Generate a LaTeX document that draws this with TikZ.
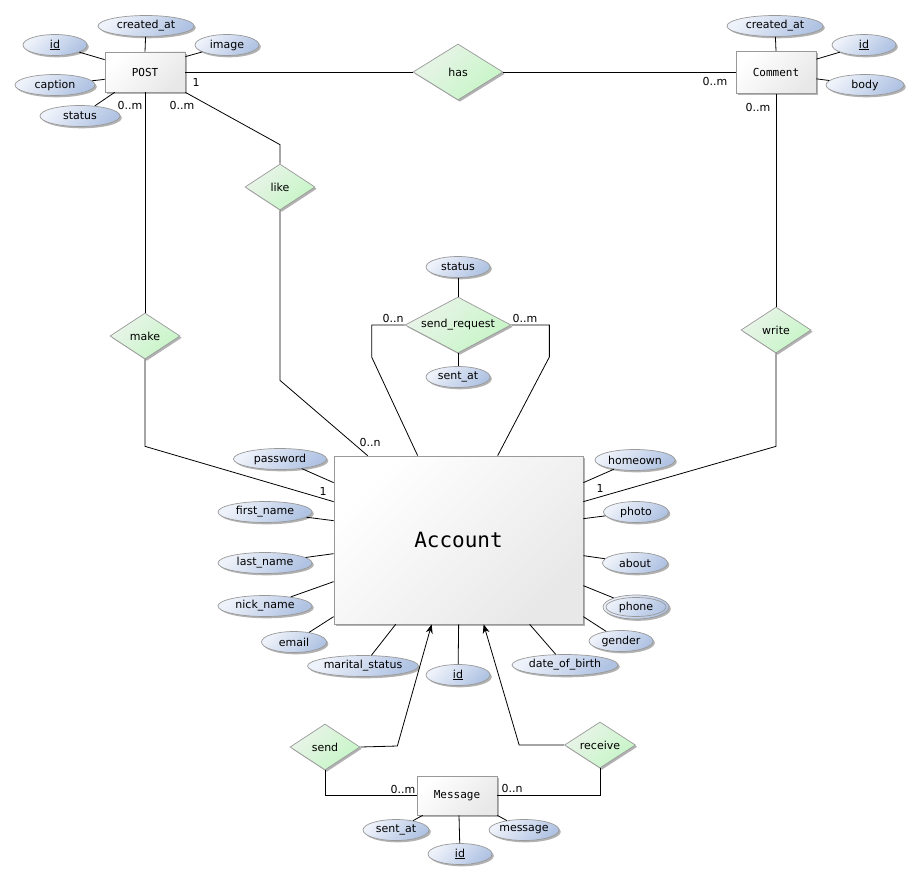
\documentclass[tikz,border=0pt]{standalone}
\usepackage{fontspec}
\setmainfont{DejaVu Sans}
\newfontfamily\monof{DejaVu Sans Mono}
\usetikzlibrary{shapes.geometric,shadows,arrows.meta,calc}
\definecolor{attrL}{HTML}{EEF2FA}
\definecolor{attrR}{HTML}{B0C3E3}
\definecolor{relL}{HTML}{EAF4EA}
\definecolor{relR}{HTML}{C6F5C6}
\definecolor{bord}{HTML}{999999}
\definecolor{entR}{HTML}{E8E8E8}
\tikzset{
  lbl/.style={font=\fontsize{11}{13}\selectfont},
  shad/.style={drop shadow={shadow xshift=1.8pt, shadow yshift=-1.8pt, opacity=0.3, fill=black}},
  diag/.style 2 args={shading=axis, top color=#1, bottom color=#2, shading angle=45},
  attr/.style={ellipse, draw=bord, line width=0.7pt, diag={attrL}{attrR}, shad, inner sep=0pt, minimum height=21pt, lbl},
  entity/.style={rectangle, draw=bord, line width=0.7pt, diag={white}{entR}, shad, inner sep=0pt, minimum width=80pt, minimum height=40pt, font=\monof\fontsize{11}{13}\selectfont},
  rel/.style={diamond, draw=bord, line width=0.7pt, diag={relL}{relR}, shad, inner sep=0pt, aspect=1.55, minimum width=70pt, minimum height=46pt, lbl},
  card/.style={inner sep=0pt, lbl},
  conn/.style={draw=black, line width=0.8pt},
  arr/.style={conn, -{Stealth[length=9pt,width=7pt]}},
}
\begin{document}
\begin{tikzpicture}[x=1pt,y=-1pt]
\useasboundingbox (0,0) rectangle (920,880);

% entities
\node[entity] (post) at (145,72) {POST};
\node[entity, minimum height=42pt] (com) at (776,72.5) {Comment};
\node[entity, minimum width=249pt, minimum height=168pt, font=\monof\fontsize{21}{24}\selectfont] (acc) at (458.5,540) {Account};
\node[entity, minimum height=39pt] (msg) at (457,795.5) {Message};

% relationships
\node[rel, minimum width=90pt, minimum height=56pt] (has) at (458,72) {has};
\node[rel] (like) at (280,187) {like};
\node[rel] (make) at (145,336) {make};
\node[rel] (write) at (776,330) {write};
\node[rel, minimum width=106pt, minimum height=56pt, aspect=1.9] (sr) at (458,325) {send\_request};
\node[rel] (send) at (325,747) {send};
\node[rel, minimum width=71pt] (recv) at (600,745) {receive};

% POST attributes
\node[attr, minimum width=96pt] (pcr) at (146,26) {created\_at};
\node[attr, minimum width=64pt] (pid) at (55,45) {\underline{id}};
\node[attr, minimum width=64pt] (pimg) at (227,45) {image};
\node[attr, minimum width=80pt] (pcap) at (55,85) {caption};
\node[attr, minimum width=80pt] (psta) at (80,116) {status};
% Comment attributes
\node[attr, minimum width=96pt] (ccr) at (775,26) {created\_at};
\node[attr, minimum width=64pt] (cid) at (864,45) {\underline{id}};
\node[attr, minimum width=78pt] (cbody) at (865,85) {body};
% send_request attributes
\node[attr, minimum width=64pt] (srst) at (458,267) {status};
\node[attr, minimum width=64pt] (srsa) at (458,377) {sent\_at};
% Account attributes
\node[attr, minimum width=93pt] (apw) at (280,459) {password};
\node[attr, minimum width=94pt] (afn) at (265,512) {first\_name};
\node[attr, minimum width=94pt] (aln) at (265,563) {last\_name};
\node[attr, minimum width=94pt] (ann) at (265,606) {nick\_name};
\node[attr, minimum width=65pt] (aem) at (294,642) {email};
\node[attr, minimum width=104pt] (ams) at (363,666) {marital\_status};
\node[attr, minimum width=64pt] (aid) at (458,675) {\underline{id}};
\node[attr, minimum width=106pt] (adob) at (565,665) {date\_of\_birth};
\node[attr, minimum width=80pt] (aho) at (635,460) {homeown};
\node[attr, minimum width=65pt] (aph) at (636,512) {photo};
\node[attr, minimum width=65pt] (aab) at (635,563) {about};
\node[attr, minimum width=66pt, minimum height=24pt] (aphn) at (636,607) {phone};
\draw[bord, line width=0.7pt] (aphn.center) ellipse (30pt and 9.5pt);
\node[attr, minimum width=64pt] (age) at (621,641) {gender};
% Message attributes
\node[attr, minimum width=66pt] (msa) at (396,830) {sent\_at};
\node[attr, minimum width=64pt] (mid) at (460,854) {\underline{id}};
\node[attr, minimum width=66pt] (mme) at (524,830) {message};

% attribute links
\draw[conn] (pcr) -- (post.north);
\draw[conn] (pid) -- ([yshift=-8pt]post.north west);
\draw[conn] (pimg) -- ([yshift=-5pt]post.north east);
\draw[conn] (pcap) -- ([yshift=13pt]post.south west);
\draw[conn] (psta) -- ([xshift=10pt]post.south west);
\draw[conn] (ccr) -- (com.north);
\draw[conn] (cid) -- ([yshift=-8pt]com.north east);
\draw[conn] (cbody) -- ([yshift=15pt]com.south east);
\draw[conn] (srst) -- (sr.north);
\draw[conn] (srsa) -- (sr.south);
\draw[conn] (apw) -- ([yshift=-27pt]acc.north west);
\draw[conn] (afn) -- ([yshift=-65pt]acc.north west);
\draw[conn] (aln) -- ([yshift=-98pt]acc.north west);
\draw[conn] (ann) -- ([yshift=-126pt]acc.north west);
\draw[conn] (aem) -- ([yshift=-161pt]acc.north west);
\draw[conn] (ams) -- ([xshift=62pt]acc.south west);
\draw[conn] (aid) -- ([xshift=125pt]acc.south west);
\draw[conn] (adob) -- ([xshift=196pt]acc.south west);
\draw[conn] (aho) -- ([yshift=-27pt]acc.north east);
\draw[conn] (aph) -- ([yshift=-63pt]acc.north east);
\draw[conn] (aab) -- ([yshift=-100pt]acc.north east);
\draw[conn] (aphn) -- ([yshift=-130pt]acc.north east);
\draw[conn] (age) -- ([yshift=-161pt]acc.north east);
\draw[conn] (msa) -- ([xshift=6pt]msg.south west);
\draw[conn] (mid) -- ([xshift=2pt]msg.south);
\draw[conn] (mme) -- (msg.south east);

% relationship links
\draw[conn] (post.east) -- (has.west);
\draw[conn] (has.east) -- (com.west |- has.east);
\draw[conn] (com.south) -- (write.north);
\draw[conn] (write.south) -- ++(0,93) -- ([yshift=-46pt]acc.north east);
\draw[conn] (post.south) -- (make.north);
\draw[conn] (make.south) -- ++(0,87) -- ([yshift=-46pt]acc.north west);
\draw[conn] (post.south east) -- ([yshift=19pt]like.north) -- (like.north);
\draw[conn] (like.south) -- ++(0,170) -- ([xshift=34pt]acc.north west);
\draw[conn] (sr.west) -- ++(-33,0) -- ++(0,32) -- ([xshift=84pt]acc.north west);
\draw[conn] (sr.east) -- ++(38,0) -- ++(0,32) -- ([xshift=164pt]acc.north west);
\draw[arr] (send.east) -- ++(37,-1) -- ([xshift=98pt]acc.south west);
\draw[arr] (recv.west) -- ++(-45,0) -- ([xshift=150pt]acc.south west);
\draw[conn] (send.south) |- (msg.west);
\draw[conn] (recv.south) |- (msg.east);

% cardinalities
\node[card] (k1) at (196,82) {1};
\node[card] (k2) at (715,81) {0..m};
\node[card] (k3) at (758,107) {0..m};
\node[card] (k4) at (130,105) {0..m};
\node[card] (k5) at (182,105) {0..m};
\node[card] (k6) at (370,442) {0..n};
\node[card] (k7) at (393,318) {0..n};
\node[card] (k8) at (525,318) {0..m};
\node[card] (k9) at (323,491) {1};
\node[card] (k10) at (600,488) {1};
\node[card] (k11) at (403,789) {0..m};
\node[card] (k12) at (512,788) {0..n};
\end{tikzpicture}
\end{document}
